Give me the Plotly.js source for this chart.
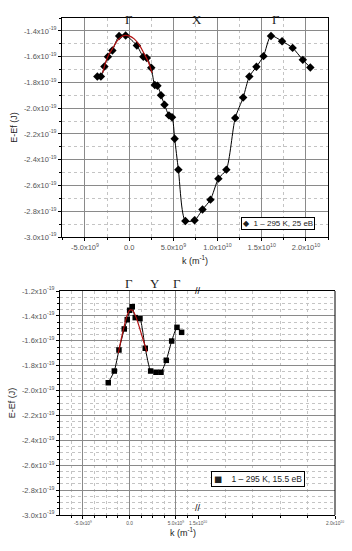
<!DOCTYPE html>
<html><head><meta charset="utf-8">
<script src="https://cdn.plot.ly/plotly-3.0.1.min.js"></script>
<style>html,body{margin:0;padding:0;background:#fff}#c{width:352px;height:551px}</style>
</head><body><div id="c"></div>
<script>
// ---- data (k in 1e9 m^-1, E in 1e-19 J) ----
const kTop = [-3.6,-3.2,-2.8,-2.4,-1.9,-1.14,-0.4,0.87,1.6,2.0,2.5,2.9,3.2,3.6,4.0,4.5,4.85,5.15,5.57,6.36,7.4,8.3,9.2,10.1,11.0,12.0,12.9,13.6,14.4,15.2,16.05,17.3,18.5,19.65,20.5];
const eTop = [-1.754,-1.754,-1.677,-1.60,-1.553,-1.44,-1.436,-1.514,-1.60,-1.61,-1.687,-1.82,-1.826,-1.90,-1.973,-2.056,-2.07,-2.237,-2.477,-2.875,-2.87,-2.787,-2.71,-2.547,-2.477,-2.077,-1.917,-1.754,-1.679,-1.596,-1.439,-1.48,-1.532,-1.625,-1.684];
const kTopFit = [-2.99,-2.81,-2.42,-1.90,-1.36,-0.91,-0.45,0,0.57,1.14,1.70,2.16,2.58];
const eTopFit = [-1.725,-1.677,-1.60,-1.54,-1.478,-1.447,-1.435,-1.439,-1.462,-1.509,-1.578,-1.64,-1.726];
const kBot = [-2.28,-1.63,-1.13,-0.56,-0.24,0.02,0.3,0.62,1.13,1.70,2.28,2.85,3.39,3.96,4.54,5.11,5.61];
const eBot = [-1.937,-1.843,-1.674,-1.505,-1.430,-1.355,-1.326,-1.414,-1.422,-1.66,-1.843,-1.853,-1.853,-1.757,-1.602,-1.492,-1.532];
const kBotFit = [-1.2,-0.91,-0.59,-0.27,0.05,0.38,0.70,1.02,1.34,1.67,1.88];
const eBotFit = [-1.70,-1.594,-1.49,-1.40,-1.353,-1.36,-1.41,-1.48,-1.56,-1.64,-1.69];
const topLabels = ["Γ","X","Γ"];
const topLabelK = [0, 7.7, 16.6];
const botLabels = ["Γ","Y","Γ"];
const botLabelK = [0, 2.74, 5.1];
const yTickVals = [-3.0,-2.8,-2.6,-2.4,-2.2,-2.0,-1.8,-1.6,-1.4,-1.2];
const xTopTicks = [-5,0,5,10,15,20];
const xTopText = ["-5.0x10<sup>9</sup>","0.0","5.0x10<sup>9</sup>","1.0x10<sup>10</sup>","1.5x10<sup>10</sup>","2.0x10<sup>10</sup>"];
const legendTop = "1 – 295 K, 25 eB";
const legendBot = "1 – 295 K, 15.5 eB";

const K = v => v*1e9, E = v => v*1e-19;
const yText = v => v.toFixed(1) + "x10<sup>-19</sup>";

const FONT = "Liberation Sans, Arial, sans-serif";
const tickFont = {family: FONT, size: 7.5, color: "#555"};
const smallTick = {family: FONT, size: 4.8, color: "#555"};
const grid = "#8a8a8a", minorGrid = "#c4c4c4";

function yAxis(dom, anchor, rng, minorStep) {
  const tv = yTickVals.filter(v => v >= rng[0]-1e-9 && v <= rng[1]+1e-9);
  return {
    domain: dom, anchor: anchor, range: [E(rng[0]), E(rng[1])],
    tickmode: "array", tickvals: tv.map(E), ticktext: tv.map(yText),
    tickfont: tickFont, ticks: "outside", ticklen: 3, tickcolor: "#000",
    showline: true, linecolor: "#000", linewidth: 1,
    showgrid: true, gridcolor: grid, gridwidth: 1, zeroline: false,
    minor: {dtick: E(minorStep), tick0: E(-3.0), ticks: "outside", ticklen: 2, tickcolor: "#000",
            showgrid: true, gridcolor: minorGrid, griddash: "dot", gridwidth: 1},
    title: {text: "E-Ef (J)", font: {family: FONT, size: 9, color: "#222"}, standoff: 4}
  };
}

const traces = [
  {x: kTop.map(K), y: eTop.map(E), xaxis: "x", yaxis: "y", mode: "lines+markers", showlegend: false,
   line: {color: "#000", width: 1, shape: "spline", smoothing: 0.7},
   marker: {symbol: "diamond", size: 6.5, color: "#000"}},
  {x: kTopFit.map(K), y: eTopFit.map(E), xaxis: "x", yaxis: "y", mode: "lines", showlegend: false,
   line: {color: "#b01010", width: 1.2, shape: "spline"}},
  {x: kBot.map(K), y: eBot.map(E), xaxis: "x2", yaxis: "y2", mode: "lines+markers", showlegend: false,
   line: {color: "#000", width: 1, shape: "spline", smoothing: 0.5},
   marker: {symbol: "square", size: 5.5, color: "#000"}},
  {x: kBotFit.map(K), y: eBotFit.map(E), xaxis: "x2", yaxis: "y2", mode: "lines", showlegend: false,
   line: {color: "#b01010", width: 1.2, shape: "spline"}},
  // empty trace so that the right-hand segment of the broken axis gets its grid
  {x: [null], y: [null], xaxis: "x3", yaxis: "y2", mode: "markers", showlegend: false}
];

const W = 352, H = 551;
const px = v => v/W, py = v => 1 - v/H;
const breakX = 198;

function legendBox(text, x, y, size, pad) {
  return {text: text, xref: "paper", yref: "paper", x: x, y: y, xanchor: "right", yanchor: "top",
    showarrow: false, bgcolor: "#fff", bordercolor: "#000", borderwidth: 1, borderpad: pad,
    font: {family: FONT, size: size, color: "#222"}};
}

const layout = {
  width: W, height: H, margin: {l:0, r:0, t:0, b:0},
  paper_bgcolor: "#fff", plot_bgcolor: "#fff",
  font: {family: FONT}, showlegend: false,
  xaxis: {domain: [px(62), px(328)], anchor: "y", range: [K(-7.6), K(22.5)],
    tickmode: "array", tickvals: xTopTicks.map(K), ticktext: xTopText,
    tickfont: tickFont, ticks: "outside", ticklen: 3, tickcolor: "#000",
    showline: true, mirror: true, linecolor: "#000", linewidth: 1,
    showgrid: true, gridcolor: grid, zeroline: false,
    minor: {dtick: K(2.5), tick0: K(-5), ticks: "outside", ticklen: 2, tickcolor: "#000",
            showgrid: true, gridcolor: minorGrid, griddash: "dot"},
    title: {text: "k (m<sup>-1</sup>)", font: {family: FONT, size: 9, color: "#222"}, standoff: 6}},
  yaxis: Object.assign(yAxis([py(237), py(18)], "x", [-3.0, -1.3], 0.1), {mirror: true}),
  xaxis2: {domain: [px(60), px(breakX)], anchor: "y2", range: [K(-7.47), K(7.37)],
    tickmode: "array", tickvals: [K(-5), K(0), K(5)], ticktext: ["-5.0x10<sup>9</sup>","0.0","5.0x10<sup>9</sup>"],
    tickfont: smallTick, ticks: "outside", ticklen: 3, tickcolor: "#000",
    showline: true, mirror: true, linecolor: "#000", linewidth: 1,
    showgrid: true, gridcolor: grid, zeroline: false,
    minor: {dtick: K(1.25), tick0: K(-5), ticks: "outside", ticklen: 2, tickcolor: "#000",
            showgrid: true, gridcolor: minorGrid, griddash: "dot"}},
  xaxis3: {domain: [px(breakX), px(335)], anchor: "y2", range: [K(15), K(20)],
    tickmode: "array", tickvals: [K(15), K(20)], ticktext: ["1.5x10<sup>10</sup>","2.0x10<sup>10</sup>"],
    tickfont: smallTick, ticks: "outside", ticklen: 3, tickcolor: "#000",
    showline: true, mirror: true, linecolor: "#000", linewidth: 1,
    showgrid: true, gridcolor: grid, zeroline: false,
    minor: {dtick: K(1), tick0: K(15), ticks: "outside", ticklen: 2, tickcolor: "#000",
            showgrid: true, gridcolor: minorGrid, griddash: "dot"}},
  yaxis2: yAxis([py(515), py(291)], "x2", [-3.0, -1.2], 0.05),
  shapes: [
    {type: "line", xref: "paper", yref: "paper", x0: px(335), x1: px(335), y0: py(515), y1: py(291),
     line: {color: "#000", width: 1}}
  ],
  annotations: [
    ...topLabels.map((t, i) => ({text: t, xref: "x", x: K(topLabelK[i]), yref: "paper", y: py(10),
      showarrow: false, font: {family: "Liberation Serif, DejaVu Serif, serif", size: 13, color: "#222"}})),
    ...botLabels.map((t, i) => ({text: t, xref: "x2", x: K(botLabelK[i]), yref: "paper", y: py(283),
      showarrow: false, font: {family: "Liberation Serif, DejaVu Serif, serif", size: 13, color: "#222"}})),
    legendBox("<span style='font-family:DejaVu Sans'>◆</span>  " + legendTop, px(315), py(217), 8, 1),
    legendBox("<span style='font-family:DejaVu Sans'>■</span>    " + legendBot, px(305), py(471), 8.5, 2),
    {text: "k (m<sup>-1</sup>)", xref: "paper", x: px(183), yref: "paper", y: py(540), showarrow: false,
     font: {family: FONT, size: 9, color: "#222"}},
    {text: "//", xref: "paper", x: px(breakX), yref: "paper", y: py(515), showarrow: false,
     font: {family: FONT, size: 9, color: "#000"}},
    {text: "//", xref: "paper", x: px(breakX), yref: "paper", y: py(291), showarrow: false,
     font: {family: FONT, size: 9, color: "#000"}}
  ]
};

Plotly.newPlot("c", traces, layout, {displayModeBar: false, staticPlot: true});
</script></body></html>
